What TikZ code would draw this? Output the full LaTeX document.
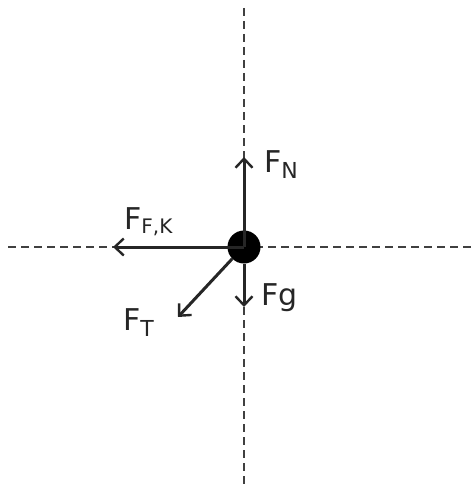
\documentclass[tikz,border=0pt]{standalone}
\usepackage{fontspec}
\setmainfont{DejaVu Sans}
\usetikzlibrary{arrows.meta}
\begin{document}
\begin{tikzpicture}[x=1pt,y=-1pt,
  axis/.style={draw=black!75, line width=1.6pt, dash pattern=on 8pt off 5pt},
  force/.style={draw=black!85, line width=3pt, -{Straight Barb[length=9pt,width=17pt,line width=2.4pt]}},
  lbl/.style={font=\fontsize{30}{30}\selectfont, text=black!85, inner sep=0pt},
  sub/.style={font=\fontsize{24}{24}\selectfont}]
\useasboundingbox (0,0) rectangle (475,487);
\coordinate (top) at (244,8);
\coordinate (bot) at (244,487);
\coordinate (lft) at (8,247);
\coordinate (rgt) at (475,247);
\draw[axis] (top) -- (bot);
\draw[axis] (lft) -- (rgt);
\node[circle, fill=black, minimum size=33pt, inner sep=0pt] (m) at (244,247) {};
\coordinate (n) at (244,157);
\coordinate (f) at (113,247);
\coordinate (t) at (178,317);
\coordinate (g) at (244,307);
\draw[force] (m.center) -- (n);
\draw[force] (m.center) -- (f);
\draw[force] (m.south west) -- (t);
\draw[force] (m.south) -- (g);
\node[lbl, anchor=west] (ln) at (264,165) {F\raisebox{-6pt}{\fontsize{22}{22}\selectfont N}};
\node[lbl, anchor=west] (lf) at (124,222) {F\raisebox{-4pt}{\fontsize{20}{20}\selectfont F,K}};
\node[lbl, anchor=west] (lt) at (123,323) {F\raisebox{-6pt}{\fontsize{22}{22}\selectfont T}};
\node[lbl, anchor=west] (lg) at (261,298) {Fg};
\end{tikzpicture}
\end{document}
